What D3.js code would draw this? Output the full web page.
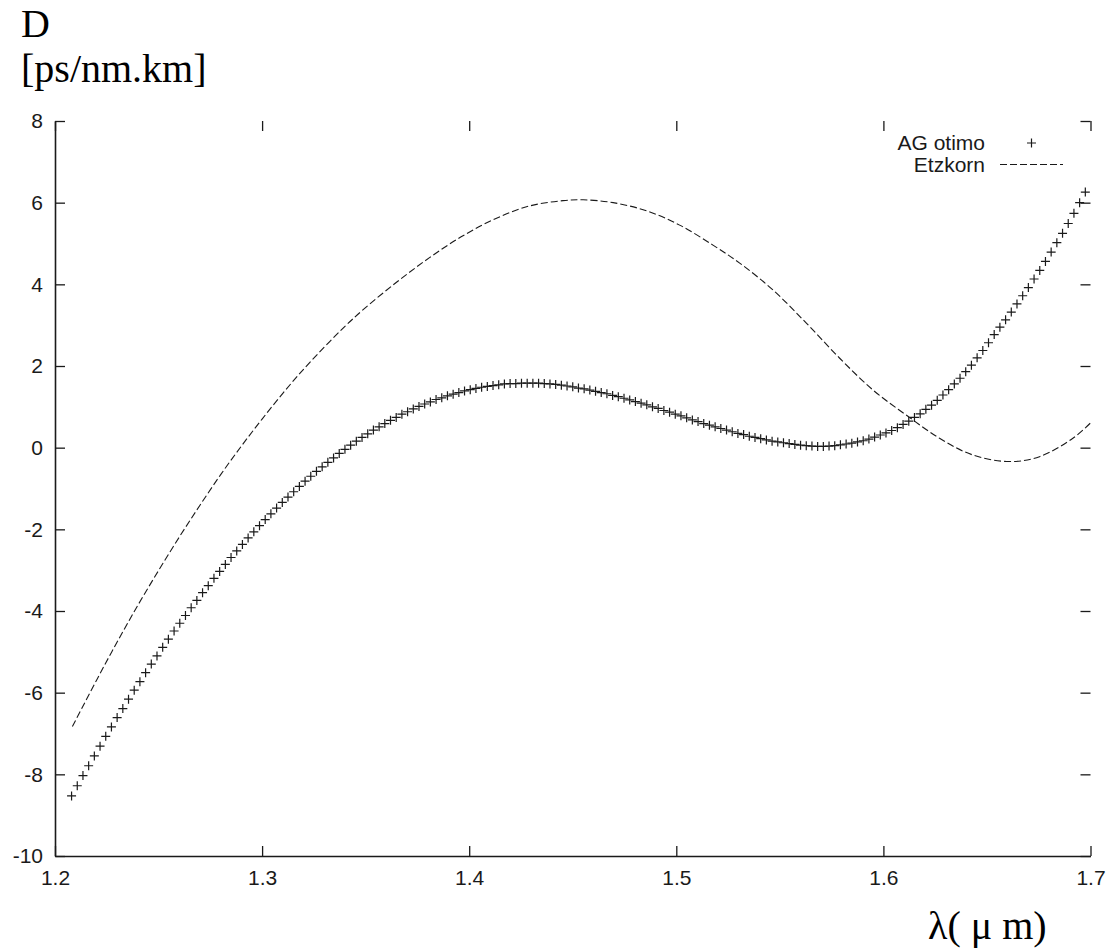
<!DOCTYPE html>
<html>
<head>
<meta charset="utf-8">
<script src="https://cdn.jsdelivr.net/npm/d3@7"></script>
<style>
  body { margin: 0; background: #fff; }
  svg { display: block; }
</style>
</head>
<body>
<svg id="chart" width="1112" height="949"></svg>
<script>
// AG otimo markers: wavelength (um) and dispersion D (ps/nm.km)
const agLambda = [
  1.208, 1.21075, 1.2135, 1.21625, 1.219, 1.22175, 1.2245, 1.22725,
  1.23, 1.23275, 1.2355, 1.23825, 1.241, 1.24375, 1.2465, 1.24925,
  1.252, 1.25475, 1.2575, 1.26025, 1.263, 1.26575, 1.2685, 1.27125,
  1.274, 1.27675, 1.2795, 1.28225, 1.285, 1.28775, 1.2905, 1.29325,
  1.296, 1.29875, 1.3015, 1.30425, 1.307, 1.30975, 1.3125, 1.31525,
  1.318, 1.32075, 1.3235, 1.32625, 1.329, 1.33175, 1.3345, 1.33725,
  1.34, 1.34275, 1.3455, 1.34825, 1.351, 1.35375, 1.3565, 1.35925,
  1.362, 1.36475, 1.3675, 1.37025, 1.373, 1.37575, 1.3785, 1.38125,
  1.384, 1.38675, 1.3895, 1.39225, 1.395, 1.39775, 1.4005, 1.40325,
  1.406, 1.40875, 1.4115, 1.41425, 1.417, 1.41975, 1.4225, 1.42525,
  1.428, 1.43075, 1.4335, 1.43625, 1.439, 1.44175, 1.4445, 1.44725,
  1.45, 1.45275, 1.4555, 1.45825, 1.461, 1.46375, 1.4665, 1.46925,
  1.472, 1.47475, 1.4775, 1.48025, 1.483, 1.48575, 1.4885, 1.49125,
  1.494, 1.49675, 1.4995, 1.50225, 1.505, 1.50775, 1.5105, 1.51325,
  1.516, 1.51875, 1.5215, 1.52425, 1.527, 1.52975, 1.5325, 1.53525,
  1.538, 1.54075, 1.5435, 1.54625, 1.549, 1.55175, 1.5545, 1.55725,
  1.56, 1.56275, 1.5655, 1.56825, 1.571, 1.57375, 1.5765, 1.57925,
  1.582, 1.58475, 1.5875, 1.59025, 1.593, 1.59575, 1.5985, 1.60125,
  1.604, 1.60675, 1.6095, 1.61225, 1.615, 1.61775, 1.6205, 1.62325,
  1.626, 1.62875, 1.6315, 1.63425, 1.637, 1.63975, 1.6425, 1.64525,
  1.648, 1.65075, 1.6535, 1.65625, 1.659, 1.66175, 1.6645, 1.66725,
  1.67, 1.67275, 1.6755, 1.67825, 1.681, 1.68375, 1.6865, 1.68925,
  1.692, 1.69475, 1.6975
];
const agD = [
  -8.53, -8.28, -8.03, -7.79, -7.55, -7.31, -7.07, -6.84, -6.61, -6.39,
  -6.16, -5.94, -5.73, -5.51, -5.30, -5.10, -4.89, -4.69, -4.49, -4.30,
  -4.11, -3.92, -3.74, -3.55, -3.38, -3.20, -3.03, -2.86, -2.69, -2.53,
  -2.37, -2.21, -2.06, -1.91, -1.76, -1.62, -1.48, -1.34, -1.21, -1.08,
  -0.95, -0.82, -0.70, -0.58, -0.47, -0.36, -0.25, -0.14, -0.04, 0.06,
  0.16, 0.25, 0.34, 0.43, 0.51, 0.59, 0.67, 0.74, 0.82, 0.88,
  0.95, 1.01, 1.07, 1.12, 1.18, 1.22, 1.27, 1.31, 1.35, 1.39,
  1.42, 1.45, 1.48, 1.50, 1.52, 1.54, 1.56, 1.57, 1.57, 1.58,
  1.58, 1.58, 1.58, 1.57, 1.56, 1.55, 1.53, 1.51, 1.49, 1.46,
  1.44, 1.41, 1.38, 1.35, 1.32, 1.28, 1.25, 1.21, 1.17, 1.13,
  1.09, 1.05, 1.00, 0.96, 0.91, 0.87, 0.82, 0.78, 0.73, 0.68,
  0.64, 0.59, 0.55, 0.51, 0.47, 0.43, 0.39, 0.35, 0.32, 0.28,
  0.25, 0.22, 0.19, 0.16, 0.14, 0.12, 0.10, 0.08, 0.06, 0.05,
  0.04, 0.03, 0.03, 0.04, 0.05, 0.07, 0.09, 0.11, 0.14, 0.17,
  0.21, 0.26, 0.31, 0.36, 0.42, 0.49, 0.57, 0.65, 0.74, 0.83,
  0.94, 1.04, 1.16, 1.29, 1.42, 1.56, 1.70, 1.86, 2.02, 2.20,
  2.38, 2.57, 2.77, 2.95, 3.13, 3.32, 3.52, 3.72, 3.92, 4.13,
  4.34, 4.56, 4.79, 5.02, 5.25, 5.49, 5.74, 6.00, 6.26
];

// Etzkorn curve, sampled along the dashed line
const etzLambda = [
  1.2084, 1.22, 1.23, 1.24, 1.25, 1.26, 1.27, 1.28, 1.29, 1.30,
  1.31, 1.32, 1.33, 1.34, 1.3488, 1.3649, 1.381, 1.397, 1.4132, 1.4292,
  1.4453, 1.455, 1.4695, 1.4856, 1.5016, 1.5177, 1.5306, 1.5467, 1.5628, 1.5789,
  1.595, 1.611, 1.6271, 1.6432, 1.6609, 1.6754, 1.6915, 1.6999
];
const etzD = [
  -6.83, -5.70, -4.76, -3.86, -3.01, -2.19, -1.41, -0.66, 0.04, 0.70,
  1.33, 1.92, 2.46, 2.97, 3.38, 4.05, 4.66, 5.19, 5.62, 5.92,
  6.05, 6.07, 6.00, 5.80, 5.45, 4.96, 4.52, 3.86, 3.05, 2.19,
  1.41, 0.80, 0.23, -0.18, -0.34, -0.22, 0.23, 0.60
];

const xTicks = [1.2, 1.3, 1.4, 1.5, 1.6, 1.7];
const yTicks = [-10, -8, -6, -4, -2, 0, 2, 4, 6, 8];
const seriesNames = ["AG otimo", "Etzkorn"];

const width = 1112, height = 949;
const plot = { left: 55, right: 1090.5, top: 121, bottom: 856 };
const sansFont = "'Liberation Sans', Arial, Helvetica, sans-serif";
const serifFont = "'Liberation Serif', 'Times New Roman', serif";
const ink = "#1a1a1a";

const svg = d3.select("#chart");
svg.append("rect").attr("width", width).attr("height", height).attr("fill", "#fff");

const x = d3.scaleLinear().domain([1.2, 1.7]).range([plot.left, plot.right]);
const y = d3.scaleLinear().domain([-10, 8]).range([plot.bottom, plot.top]);

function styleAxis(g) {
  g.attr("font-family", sansFont).attr("font-size", 21);
  g.selectAll(".tick line").attr("stroke", ink).attr("stroke-width", 1.3);
  g.selectAll(".tick text").attr("fill", ink);
  g.select(".domain").attr("stroke", ink).attr("stroke-width", 1.6);
}

// bottom + left axes (full border lines), ticks point inward
svg.append("g")
  .attr("transform", `translate(0,${plot.bottom})`)
  .call(d3.axisBottom(x).tickValues(xTicks).tickSize(-10).tickSizeOuter(0).tickPadding(14).tickFormat(d => d.toFixed(1)))
  .call(styleAxis);

// plain hyphen for negatives, like the original
svg.append("g")
  .attr("transform", `translate(${plot.left},0)`)
  .call(d3.axisLeft(y).tickValues(yTicks).tickSize(-10).tickSizeOuter(0).tickPadding(12).tickFormat(d => String(d)))
  .call(styleAxis);

// mirrored ticks on top and right, no border line there
svg.append("g")
  .attr("transform", `translate(0,${plot.top})`)
  .call(d3.axisTop(x).tickValues(xTicks).tickSize(-10).tickFormat(""))
  .call(styleAxis)
  .call(g => g.select(".domain").remove());

svg.append("g")
  .attr("transform", `translate(${plot.right},0)`)
  .call(d3.axisRight(y).tickValues(yTicks).tickSize(-10).tickFormat(""))
  .call(styleAxis)
  .call(g => g.select(".domain").remove());

// Etzkorn dashed curve
const etzData = etzLambda.map((l, i) => ({ l: l, d: etzD[i] }));
const line = d3.line()
  .x(d => x(d.l))
  .y(d => y(d.d))
  .curve(d3.curveCatmullRom.alpha(0.5));

svg.append("path")
  .datum(etzData)
  .attr("d", line)
  .attr("fill", "none")
  .attr("stroke", ink)
  .attr("stroke-width", 1.1)
  .attr("stroke-dasharray", "7,3");

// AG otimo plus markers
const plus = "M-4.5,0H4.5M0,-4.5V4.5";
const agData = agLambda.map((l, i) => ({ l: l, d: agD[i] }));
svg.append("g")
  .selectAll("path")
  .data(agData)
  .enter().append("path")
  .attr("d", plus)
  .attr("transform", d => `translate(${x(d.l)},${y(d.d)})`)
  .attr("fill", "none")
  .attr("stroke", ink)
  .attr("stroke-width", 1.2);

// key, top right
const key = svg.append("g").attr("font-family", sansFont).attr("font-size", 21).attr("fill", ink);
key.append("text").attr("x", 985).attr("y", 143).attr("dy", "0.35em").attr("text-anchor", "end").text(seriesNames[0]);
key.append("text").attr("x", 985).attr("y", 164.5).attr("dy", "0.35em").attr("text-anchor", "end").text(seriesNames[1]);
key.append("path").attr("d", plus).attr("transform", "translate(1031.5,143)")
  .attr("fill", "none").attr("stroke", ink).attr("stroke-width", 1.2);
key.append("line").attr("x1", 1000).attr("x2", 1063).attr("y1", 164.5).attr("y2", 164.5)
  .attr("stroke", ink).attr("stroke-width", 1.1).attr("stroke-dasharray", "7,3");

// axis titles
svg.append("text").attr("x", 21).attr("y", 37)
  .attr("font-family", serifFont).attr("font-size", 40).attr("fill", "#000").text("D");
svg.append("text").attr("x", 21).attr("y", 82)
  .attr("font-family", serifFont).attr("font-size", 40).attr("fill", "#000").text("[ps/nm.km]");
svg.append("text").attr("x", 928).attr("y", 939)
  .attr("font-family", serifFont).attr("font-size", 40).attr("fill", "#000").text("λ( μ m)");
</script>
</body>
</html>
